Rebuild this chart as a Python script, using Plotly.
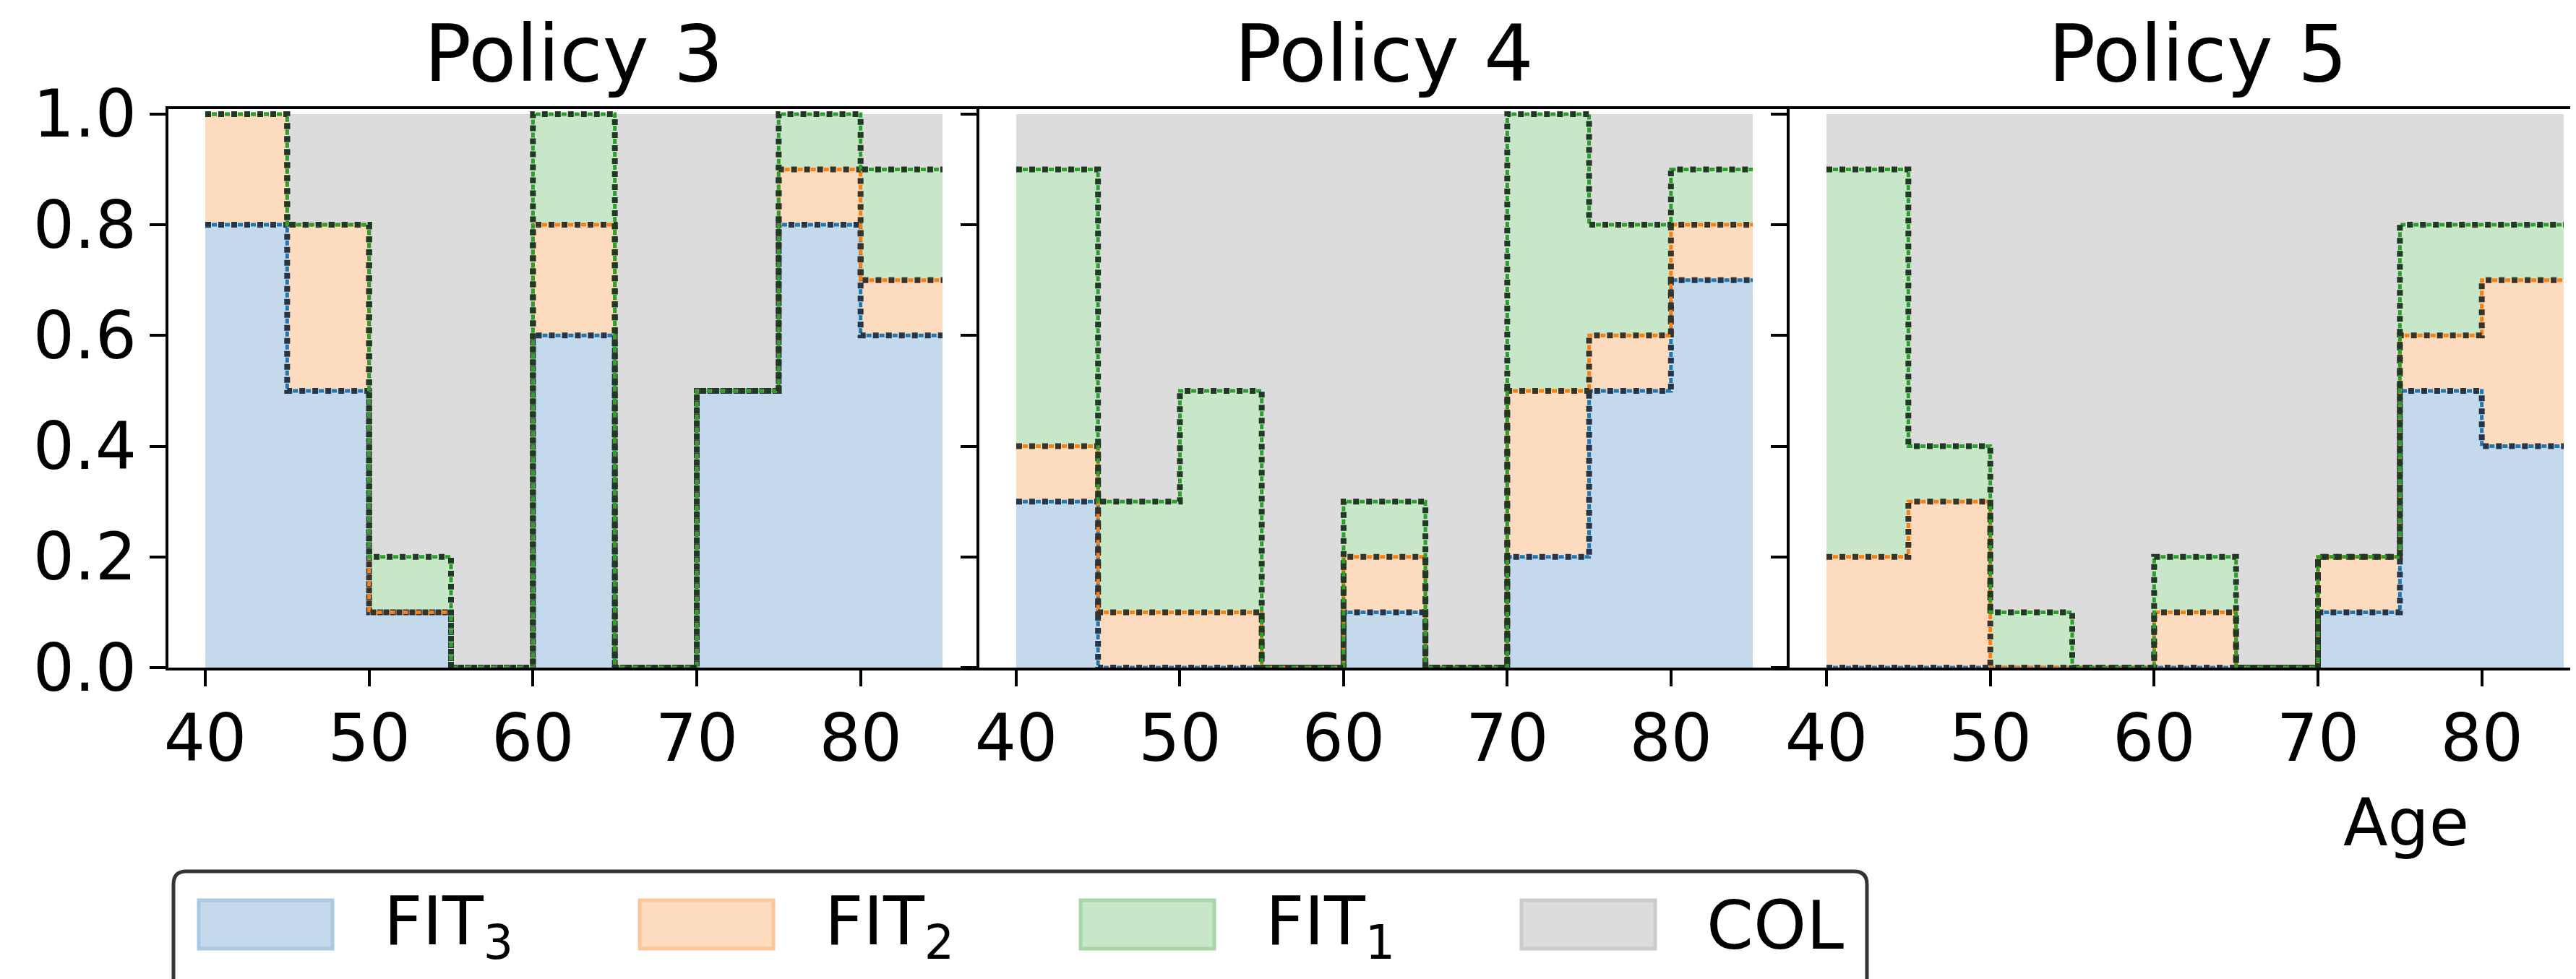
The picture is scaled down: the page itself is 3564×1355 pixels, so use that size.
import numpy as np
import plotly.graph_objects as go

W, H = 3564, 1355

# ---------------- data ----------------
age_edges = [40, 45, 50, 55, 60, 65, 70, 75, 80, 85]
panel_titles = ["Policy 3", "Policy 4", "Policy 5"]
series_names = ["FIT<sub>3</sub>", "FIT<sub>2</sub>", "FIT<sub>1</sub>", "COL"]

p3_fit3 = [0.8, 0.5, 0.1, 0.0, 0.6, 0.0, 0.5, 0.8, 0.6]
p3_fit2 = [0.2, 0.3, 0.0, 0.0, 0.2, 0.0, 0.0, 0.1, 0.1]
p3_fit1 = [0.0, 0.0, 0.1, 0.0, 0.2, 0.0, 0.0, 0.1, 0.2]
p3_col  = [0.0, 0.2, 0.8, 1.0, 0.0, 1.0, 0.5, 0.0, 0.1]

p4_fit3 = [0.3, 0.0, 0.0, 0.0, 0.1, 0.0, 0.2, 0.5, 0.7]
p4_fit2 = [0.1, 0.1, 0.1, 0.0, 0.1, 0.0, 0.3, 0.1, 0.1]
p4_fit1 = [0.5, 0.2, 0.4, 0.0, 0.1, 0.0, 0.5, 0.2, 0.1]
p4_col  = [0.1, 0.7, 0.5, 1.0, 0.7, 1.0, 0.0, 0.2, 0.1]

p5_fit3 = [0.0, 0.0, 0.0, 0.0, 0.0, 0.0, 0.1, 0.5, 0.4]
p5_fit2 = [0.2, 0.3, 0.0, 0.0, 0.1, 0.0, 0.1, 0.1, 0.3]
p5_fit1 = [0.7, 0.1, 0.1, 0.0, 0.1, 0.0, 0.0, 0.2, 0.1]
p5_col  = [0.1, 0.6, 0.9, 1.0, 0.8, 1.0, 0.8, 0.2, 0.2]

x_tick_vals = [40, 50, 60, 70, 80]
y_tick_vals = [0.0, 0.2, 0.4, 0.6, 0.8, 1.0]
y_tick_text = ["0.0", "0.2", "0.4", "0.6", "0.8", "1.0"]
x_label = "Age"

# ---------------- style ----------------
FONT = "DejaVu Sans"
fill_colors = ["#c4d9ec", "#fddbbf", "#c8e6c8", "#dcdcdc"]
patch_edges = ["#a9c8e3", "#fbc79a", "#a6d7a6", "#cbcbcb"]
line_colors = ["#1f77b4", "#ff7f0e", "#2ca02c"]
dot_colors = ["#22354a", "#3b3226", "#1f3a23"]

panels = [
    [p3_fit3, p3_fit2, p3_fit1, p3_col],
    [p4_fit3, p4_fit2, p4_fit1, p4_col],
    [p5_fit3, p5_fit2, p5_fit1, p5_col],
]

def fx(px):
    return px / W

def fy(py):
    return 1 - py / H

panel_px = [(225, 1347), (1347, 2468), (2468, 3564)]
px_per_year = (1347 - 225) / 49.5
x_ranges = [(37.75, 87.25), (37.75, 87.25),
            (37.75, 37.75 + (3564 - 2468) / px_per_year)]
y_dom = [fy(916), fy(143)]
y_range = [0, 1.009]

fig = go.Figure()

# stacked step fills
for i, series in enumerate(panels):
    xa = "x" if i == 0 else f"x{i+1}"
    ya = "y" if i == 0 else f"y{i+1}"
    for k, vals in enumerate(series):
        fig.add_trace(go.Scatter(
            x=age_edges, y=list(vals) + [vals[-1]],
            mode="lines", line=dict(width=0, shape="hv"),
            stackgroup=f"s{i}", fillcolor=fill_colors[k],
            xaxis=xa, yaxis=ya, showlegend=False, hoverinfo="skip"))

# dotted boundary step lines
for i, series in enumerate(panels):
    xa = "x" if i == 0 else f"x{i+1}"
    ya = "y" if i == 0 else f"y{i+1}"
    cum = np.cumsum(np.array(series[:3], dtype=float), axis=0)
    for k in range(3):
        yv = list(cum[k]) + [cum[k][-1]]
        fig.add_trace(go.Scatter(
            x=age_edges, y=yv, mode="lines",
            line=dict(width=5, shape="hv", color=line_colors[k],
                      dash="0px,9px,7px,2px"),
            xaxis=xa, yaxis=ya, showlegend=False, hoverinfo="skip"))
        fig.add_trace(go.Scatter(
            x=age_edges, y=yv, mode="lines",
            line=dict(width=8, shape="hv", color=dot_colors[k],
                      dash="8px,10px"),
            xaxis=xa, yaxis=ya, showlegend=False, hoverinfo="skip"))

layout = dict(
    width=W, height=H,
    margin=dict(l=0, r=0, t=0, b=0),
    paper_bgcolor="white", plot_bgcolor="white",
    font=dict(family=FONT, size=90, color="black"),
    showlegend=False,
)

for i in range(3):
    xkey = "xaxis" if i == 0 else f"xaxis{i+1}"
    ykey = "yaxis" if i == 0 else f"yaxis{i+1}"
    xa = "x" if i == 0 else f"x{i+1}"
    ya = "y" if i == 0 else f"y{i+1}"
    layout[xkey] = dict(
        domain=[fx(panel_px[i][0]), fx(panel_px[i][1])],
        range=list(x_ranges[i]), anchor=ya,
        showline=True, mirror=True, linecolor="black", linewidth=4,
        ticks="outside", ticklen=22, tickwidth=4, tickcolor="black",
        tickvals=x_tick_vals, showgrid=False, zeroline=False,
        ticklabelstandoff=-5,
        tickfont=dict(family=FONT, size=90, color="black"),
        automargin=False, fixedrange=True)
    layout[ykey] = dict(
        domain=y_dom, range=y_range, anchor=xa,
        showline=True, mirror=False, linecolor="black", linewidth=4,
        ticks="outside", ticklen=22, tickwidth=4, tickcolor="black",
        tickvals=y_tick_vals, ticktext=y_tick_text,
        showticklabels=(i == 0), showgrid=False, zeroline=False,
        tickfont=dict(family=FONT, size=90, color="black"),
        automargin=False, fixedrange=True)

fig.update_layout(**layout)

annotations = []
for i, t in enumerate(panel_titles):
    cx = (panel_px[i][0] + panel_px[i][1]) / 2 if i < 2 else 3033
    annotations.append(dict(
        text=t, x=fx(cx), y=fy(66), xref="paper", yref="paper",
        xanchor="center", yanchor="middle", showarrow=False,
        font=dict(family=FONT, size=108, color="black")))

annotations.append(dict(
    text=x_label, x=fx(3321), y=fy(1130), xref="paper", yref="paper",
    xanchor="center", yanchor="middle", showarrow=False,
    font=dict(family=FONT, size=90, color="black")))

# manual legend
shapes = []
lx0, lx1, ltop, lbot, rad = 232, 2575, 1198, 1420, 18
path = (f"M {fx(lx0)},{fy(lbot)} L {fx(lx0)},{fy(ltop + rad)} "
        f"Q {fx(lx0)},{fy(ltop)} {fx(lx0 + rad)},{fy(ltop)} "
        f"L {fx(lx1 - rad)},{fy(ltop)} "
        f"Q {fx(lx1)},{fy(ltop)} {fx(lx1)},{fy(ltop + rad)} "
        f"L {fx(lx1)},{fy(lbot)}")
shapes.append(dict(type="path", path=path, xref="paper", yref="paper",
                   line=dict(color="#333333", width=5),
                   fillcolor="rgba(255,255,255,0.8)", layer="above"))
for k, name in enumerate(series_names):
    px0 = 267 + 610 * k
    shapes.append(dict(type="rect", xref="paper", yref="paper",
                       x0=fx(px0), x1=fx(px0 + 185), y0=fy(1305), y1=fy(1238),
                       fillcolor=fill_colors[k],
                       line=dict(color=patch_edges[k], width=5), layer="above"))
    annotations.append(dict(
        text=name, x=fx(px0 + 254), y=fy(1273), xref="paper", yref="paper",
        xanchor="left", yanchor="middle", showarrow=False,
        font=dict(family=FONT, size=93, color="black")))

fig.update_layout(annotations=annotations, shapes=shapes)

fig.write_html("out.html")
